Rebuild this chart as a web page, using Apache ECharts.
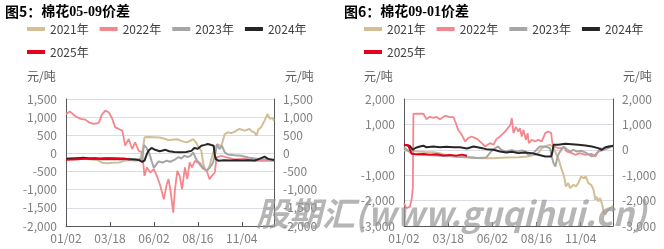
<!DOCTYPE html>
<html><head><meta charset="utf-8">
<script src="https://cdn.jsdelivr.net/npm/echarts@6/dist/echarts.min.js"></script>
<style>html,body{margin:0;padding:0;background:#fff}#c{width:664px;height:249px}</style>
</head><body><div id="c"></div>
<script>
// ---------- data ----------
const seriesNames = ['2021年','2022年','2023年','2024年','2025年'];
const xTickLabels = ['01/02','03/18','06/02','08/16','11/04'];
const xTickStep = 75;
const xMax = 355;
const titleLeft = ['图5：','棉花05-09价差'];
const titleRight = ['图6：','棉花09-01价差'];
const unitLabel = '元/吨';
const leftYRange = [-2000, 1500, 500];
const rightYRange = [-3000, 2000, 1000];

// Left chart: 05-09 spread (x = day index from 01/02)
const L2021x = [0,15,30,45,55,62,70,80,90,100,110,118,126,131,134,140,150,160,170,175,180,190,198,205,210,217,222,225,231,234,237,241,245,248,254,259,265,271,276,282,288,296,305,313,318,322,325,328,333,339,344,348,352,355];
const L2021y = [-150,-160,-150,-170,-190,-260,-270,-260,-250,-200,-180,-200,-190,100,443,450,445,440,400,360,380,390,340,305,330,397,300,212,75,-250,-433,-479,-350,-156,166,250,200,535,581,560,600,675,628,675,600,581,489,650,720,904,1090,951,980,904];
const L2022x = [0,7,16,25,33,39,47,56,61,67,73,79,84,90,96,101,107,113,118,124,130,134,138,144,150,155,161,167,172,175,179,183,186,190,194,198,203,207,211,215,220,224,228,234,240,245,249,254,257,259,265,274,288,305,322,339,355];
const L2022y = [1090,1154,1024,952,932,858,813,841,1062,1181,1135,952,719,675,628,213,398,122,304,75,28,-617,-387,-526,-433,-617,-894,-1262,-847,-708,-1100,-1632,-985,-479,-617,-985,-387,-708,-249,-387,-202,-249,-249,-387,-479,-708,-617,-526,-110,-110,-64,-110,-166,-143,-202,-202,-202];
const L2023x = [0,20,40,60,80,100,115,125,130,133,137,142,146,150,153,158,165,172,178,185,192,197,202,208,213,217,222,228,234,240,245,251,254,258,262,266,271,276,288,299,311,322,333,345,355];
const L2023y = [-150,-130,-140,-170,-160,-170,-170,-160,-150,232,166,0,-202,-400,-350,-220,-250,-200,-230,-180,-100,-140,-64,-100,-60,28,-150,-300,-420,-470,-400,-249,-64,258,120,212,28,-30,-50,-64,-110,-140,-156,-175,-175];
const L2024x = [0,10,20,30,40,50,60,70,80,90,100,110,118,124,130,134,138,141,146,152,160,170,176,185,195,205,214,219,225,231,237,242,248,252,254,256,260,270,280,290,300,311,322,328,333,339,345,355];
const L2024y = [-150,-140,-130,-120,-140,-130,-150,-140,-145,-150,-150,-160,-170,-180,-230,-200,-20,80,150,100,60,100,60,40,30,40,70,150,130,212,235,258,230,212,-60,-156,-202,-190,-195,-185,-195,-190,-195,-165,-130,-90,-150,-180];
const L2025x = [0,10,20,30,40,50,60,70,80,90,100,109];
const L2025y = [-175,-170,-160,-150,-150,-145,-140,-135,-130,-140,-150,-165];

// Right chart: 09-01 spread
const R2021x = [0,20,35,50,62,72,90,106,130,150,174,195,210,222,228,234,240,248,254,259,263,267,269,272,275,279,282,288,292,296,301,305,309,313,318,322,325,327,330,333,336,339,342,344,347,350,353,355];
const R2021y = [-30,-60,-90,-100,-144,-236,-260,-290,-328,-328,-300,-290,-262,-200,-131,66,131,197,100,-197,-393,-722,-650,-1050,-1443,-1312,-1509,-1378,-1440,-1312,-1050,-1115,-1050,-1312,-1378,-1575,-1968,-1837,-2034,-1900,-2100,-2428,-2560,-2450,-2494,-2297,-2250,-2200];
const R2022x = [0,4,10,13,15,16,19,24,33,38,44,50,55,61,70,78,84,87,92,98,104,109,115,121,126,132,138,142,146,152,157,163,169,174,178,181,183,186,190,194,197,200,203,207,210,212,217,223,228,234,240,245,250,252,255,262,273,276,285,291,299,308,319,325,330,333,339,347,355];
const R2022y = [-2100,-2297,-2250,-1940,-1500,1417,1470,1420,1420,1205,1300,1260,1300,1205,1340,1290,1290,1113,786,590,328,459,525,459,393,262,131,200,262,200,420,525,656,786,900,1000,1246,656,900,721,850,525,786,393,656,262,393,328,393,328,656,721,656,262,131,66,66,-66,-131,-197,-131,-197,-160,-262,-66,66,30,131,150];
const R2023x = [0,10,20,40,60,80,100,115,125,140,148,155,160,165,172,183,192,200,206,211,220,225,231,240,248,251,254,257,259,262,267,271,276,282,288,293,302,310,319,325,330,339,347,352,355];
const R2023y = [100,-100,-180,-200,-230,-250,-280,-300,-320,-300,-66,66,131,0,-66,-20,-66,-30,-66,-197,-131,0,131,131,66,-262,-525,-656,-459,-197,0,131,30,-66,0,-66,-40,-131,-262,-197,-66,0,66,131,131];
const R2024x = [0,10,15,20,27,33,38,50,61,72,84,95,107,118,129,140,152,163,174,183,194,206,217,228,240,250,252,254,262,274,285,296,308,319,330,336,342,353,355];
const R2024y = [200,150,0,80,131,160,100,131,100,120,100,100,53,131,80,26,0,-66,-105,-80,-131,-105,-131,-197,-262,-262,-100,197,197,240,220,197,170,131,66,0,100,150,160];
const R2025x = [0,7,10,13,22,33,44,55,67,78,89,98,107];
const R2025y = [197,180,150,-157,-180,-170,-190,-175,-220,-200,-230,-190,-236];

const watermarkText = '股期汇(www.guqihui.cn)';

// ---------- styles ----------
const FONT = "'Noto Sans CJK SC','Noto Sans',sans-serif";
const SERIF = "'Liberation Serif','Noto Sans CJK SC',serif";
const colors = ['#d3be95','#f4878d','#a6a6a6','#262626','#e3001b'];
const widths = [2,1.8,2,2,2];

function pairs(xs, ys){ return xs.map((x,i)=>[x, ys[i]]); }

function mkSeries(gi, list){
  return list.map((s,k)=>({
    name: seriesNames[k], type:'line', xAxisIndex: gi, yAxisIndex: gi*2,
    data: pairs(s[0], s[1]), symbol:'none', showSymbol:false,
    lineStyle:{width:widths[k], color:colors[k]}, itemStyle:{color:colors[k]},
    z: 2+k, animation:false
  }));
}

function xAxisCfg(gi){
  return {
    gridIndex: gi, type:'value', min:0, max:xMax, interval:xTickStep,
    axisLine:{show:true, onZero:false, lineStyle:{color:'#595959', width:1}},
    axisTick:{show:true, inside:true, length:4, lineStyle:{color:'#595959'}},
    axisLabel:{formatter:v=>{const i=v/xTickStep; return Number.isInteger(i)&&xTickLabels[i]?xTickLabels[i]:'';},
      fontSize:12, color:'#7f7f7f', margin:6, fontFamily:FONT, showMaxLabel:false},
    splitLine:{show:false}
  };
}
function yAxisCfg(gi, pos, r){
  return {
    gridIndex: gi, type:'value', position: pos, min:r[0], max:r[1], interval:r[2],
    axisLine:{show:true, onZero:false, lineStyle:{color:'#595959', width:1}},
    axisTick:{show:false},
    axisLabel:{fontSize:12, color:'#7f7f7f', margin:9, fontFamily:FONT},
    splitLine:{show: pos==='left', lineStyle:{color:'#dcdce6', width:1}}
  };
}
function legendCfg(left){
  return {left:left, top:23, width:300, padding:0, icon:'rect', itemWidth:18, itemHeight:4, itemGap:11,
    textStyle:{fontSize:12, color:'#404040', fontFamily:FONT}, data:seriesNames};
}
function titleCfg(left, parts){
  return {text:'{a|'+parts[0]+'}{b|'+parts[1]+'}', left:left, top:5, padding:0,
    textStyle:{rich:{a:{fontSize:14, fontWeight:'bold', fontFamily:FONT, color:'#000'},
                     b:{fontSize:14, fontWeight:'bold', fontFamily:SERIF, color:'#000'}}}};
}
function unitText(x){
  return {type:'text', left:x, top:70, style:{text:unitLabel, font:'12px '+FONT, fill:'#595959'}};
}

const chart = echarts.init(document.getElementById('c'), null, {renderer:'canvas'});
chart.setOption({
  animation:false,
  backgroundColor:'#fff',
  title:[titleCfg(5, titleLeft), titleCfg(344, titleRight)],
  legend:[legendCfg(27), legendCfg(364)],
  grid:[{left:66, top:99, width:208, height:127, outerBoundsMode:'none'},
        {left:404, top:99, width:209, height:127, outerBoundsMode:'none'}],
  xAxis:[xAxisCfg(0), xAxisCfg(1)],
  yAxis:[yAxisCfg(0,'left',leftYRange), yAxisCfg(0,'right',leftYRange),
         yAxisCfg(1,'left',rightYRange), yAxisCfg(1,'right',rightYRange)],
  series:[].concat(
    mkSeries(0, [[L2021x,L2021y],[L2022x,L2022y],[L2023x,L2023y],[L2024x,L2024y],[L2025x,L2025y]]),
    mkSeries(1, [[R2021x,R2021y],[R2022x,R2022y],[R2023x,R2023y],[R2024x,R2024y],[R2025x,R2025y]])
  ),
  graphic:[unitText(27), unitText(285), unitText(364), unitText(623),
    {type:'text', left:256, top:197, z:100,
     style:{text:watermarkText, font:'italic bold 33px '+FONT, fill:'rgba(150,150,150,0.7)'}}]
});
</script></body></html>
